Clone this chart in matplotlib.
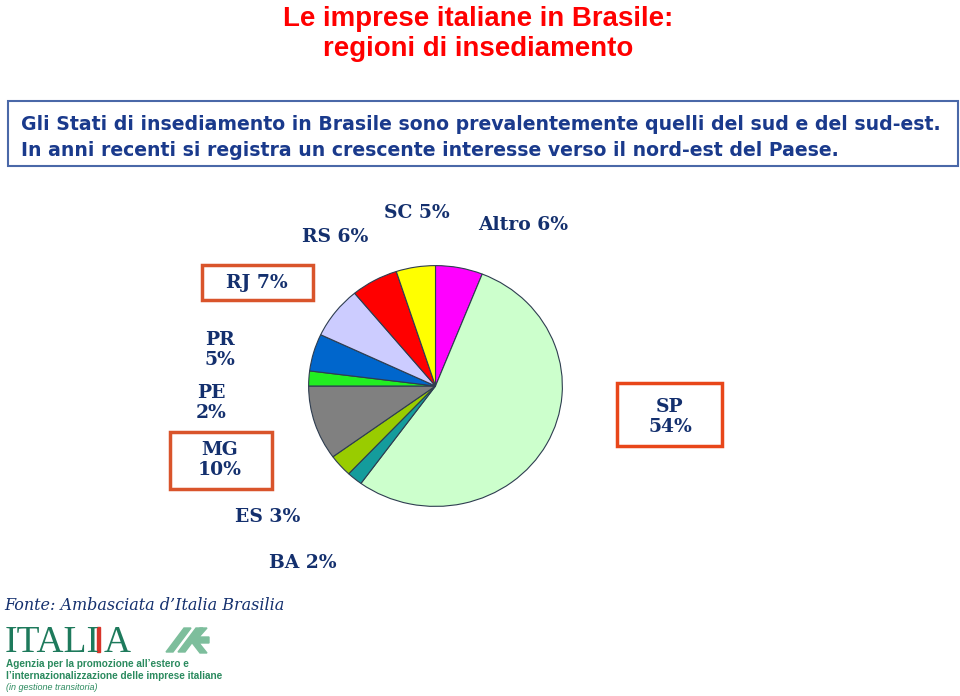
import matplotlib.pyplot as plt
from matplotlib.patches import Rectangle, Polygon

W, H = 960, 696

regions = ['Altro', 'SP', 'BA', 'ES', 'MG', 'PE', 'PR', 'RJ', 'RS', 'SC']
shares = [6, 54, 2, 3, 10, 2, 5, 7, 6, 5]
colors = ['#FF00FF', '#CCFFCC', '#149C9C', '#99CC00', '#808080',
          '#22EE22', '#0066CC', '#CCCCFF', '#FF0000', '#FFFF00']

title = 'Le imprese italiane in Brasile:\nregioni di insediamento'
intro = ['Gli Stati di insediamento in Brasile sono prevalentemente quelli del sud e del sud-est.',
         'In anni recenti si registra un crescente interesse verso il nord-est del Paese.']
source = 'Fonte: Ambasciata d\u2019Italia Brasilia'
agency = ['Agenzia per la promozione all\u2019estero e',
          'l\u2019internazionalizzazione delle imprese italiane']

navy = '#14306E'
box_red = '#D9542B'


def fx(x):
    return x / W


def fy(y):
    return 1 - y / H


def main():
    fig = plt.figure(figsize=(9.6, 6.96), dpi=100)

    # title
    fig.text(fx(478), fy(34), title, ha='center', va='center', color='#FF0000',
             fontsize=19.9, fontweight='bold', family='Liberation Sans', linespacing=1.2)

    # intro box
    fig.patches.append(Rectangle((fx(8), fy(166)), fx(950), 65 / H, transform=fig.transFigure,
                                 fill=False, edgecolor='#4A68A8', lw=1.5))
    for i, line in enumerate(intro):
        fig.text(fx(21), fy(124 + 26 * i), line, ha='left', va='center', color='#1A3A8C',
                 fontsize=13.6, fontweight='bold', family='DejaVu Sans')

    # pie, slightly squashed like the original
    cx, cy, rx, ry = 435.5, 386, 127.5, 121
    ax = fig.add_axes([fx(cx - rx), fy(cy + ry), 2 * rx / W, 2 * ry / H])
    ax.pie(shares, colors=colors, startangle=90, counterclock=False,
           wedgeprops=dict(edgecolor='#2E3D50', linewidth=0.8))
    ax.set_aspect('auto')
    ax.set_xlim(-1.005, 1.005)
    ax.set_ylim(-1.005, 1.005)
    ax.axis('off')

    # labels
    lab = dict(ha='center', va='center', color=navy, fontsize=13.5,
               fontweight='bold', family='DejaVu Serif', linespacing=1.15)
    pos = {'RS': (335, 237), 'SC': (417, 213), 'Altro': (523, 225),
           'RJ': (257, 283), 'PR': (220, 350), 'PE': (211, 403), 'MG': (220, 460),
           'SP': (670, 417), 'ES': (268, 517), 'BA': (303, 563)}
    stacked = ['PR', 'PE', 'MG', 'SP']
    for r, s in zip(regions, shares):
        sep = '\n' if r in stacked else ' '
        x, y = pos[r]
        fig.text(fx(x), fy(y), f'{r}{sep}{s}%', **lab)

    boxes = [(202, 265, 111, 35, box_red), (170, 432, 102, 57, box_red), (617, 383, 105, 63, '#E8461A')]
    for x, y, w, h, c in boxes:
        fig.patches.append(Rectangle((fx(x), fy(y + h)), w / W, h / H, transform=fig.transFigure,
                                     fill=False, edgecolor=c, lw=2.5))

    # source
    fig.text(fx(4), fy(606), source, ha='left', va='center', color=navy, fontsize=11.5,
             style='italic', family='DejaVu Serif')

    # logo: letters placed one after another, red stripe beside the last I
    green = '#1E7A5C'
    renderer = fig.canvas.get_renderer()
    x = 5
    for part in ['ITALI', 'A']:
        t = fig.text(fx(x), fy(652), part, ha='left', va='baseline', color=green, fontsize=27,
                     family='Liberation Serif')
        bb = t.get_window_extent(renderer)
        if part == 'ITALI':
            fig.patches.append(Rectangle((fx(x + bb.width - 3), fy(652)), 3 / W, 25 / H,
                                         transform=fig.transFigure, color='#D8342A'))
            x += bb.width + 4
    lg = '#7DBE9C'
    for dx in (0, 12):
        fig.patches.append(Polygon([(fx(166 + dx), fy(652)), (fx(184 + dx), fy(628)),
                                    (fx(191 + dx), fy(628)), (fx(173 + dx), fy(652))],
                                   transform=fig.transFigure, color=lg))
    fig.patches.append(Polygon([(fx(190), fy(640)), (fx(200), fy(628)), (fx(207), fy(628)),
                                (fx(199), fy(637)), (fx(209), fy(637)), (fx(209), fy(643)),
                                (fx(199), fy(643)), (fx(207), fy(653)), (fx(200), fy(653))],
                               transform=fig.transFigure, color=lg))
    for i, line in enumerate(agency):
        fig.text(fx(6), fy(664 + 12 * i), line, ha='left', va='center',
                 color='#2A8A5E', fontsize=7.2, fontweight='bold', family='Liberation Sans')
    fig.text(fx(6), fy(688), '(in gestione transitoria)', ha='left', va='center',
             color='#2A8A5E', fontsize=6.5, style='italic', family='Liberation Sans')

    fig.savefig('out.png', dpi=100)


if __name__ == '__main__':
    main()
